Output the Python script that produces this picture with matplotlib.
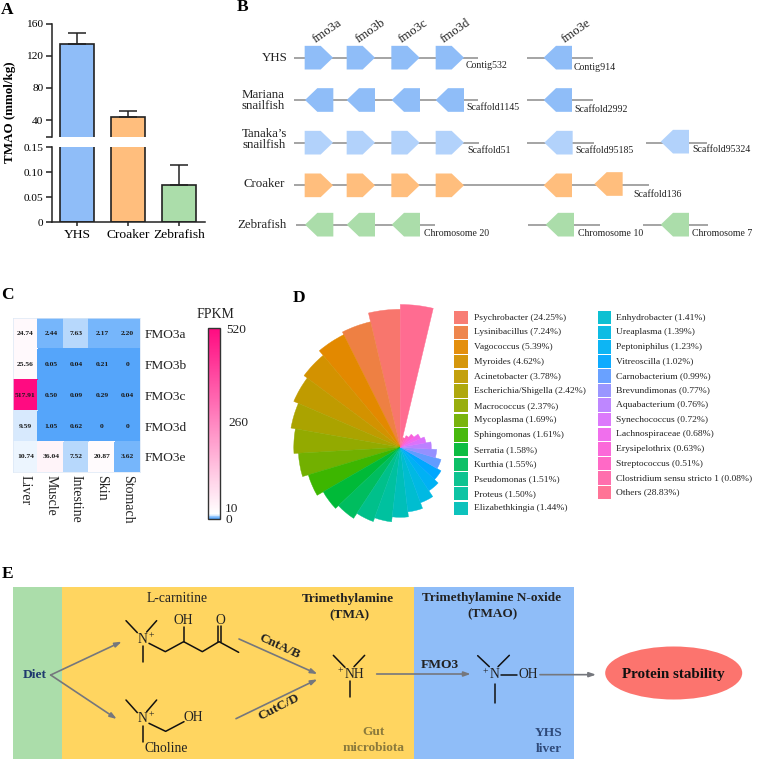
"""TMAO figure: bar chart, gene clusters, heatmap, coxcomb and pathway schematic."""

import matplotlib
matplotlib.use("Agg")
import matplotlib.pyplot as plt
import numpy as np
from matplotlib.colors import LinearSegmentedColormap, Normalize
from matplotlib.patches import Ellipse, Polygon, Rectangle

W, H = 757, 761

# panel A
species = ["YHS", "Croaker", "Zebrafish"]
tmao = [134.4, 43.6, 0.075]
tmao_err = [13.2, 8.2, 0.04]
bar_colors = ["#8FBDF8", "#FFBE7D", "#ABDDAA"]

# panel C
tissues = ["Liver", "Muscle", "Intestine", "Skin", "Stomach"]
fmo_genes = ["FMO3a", "FMO3b", "FMO3c", "FMO3d", "FMO3e"]
fpkm = [
    [24.74, 2.44, 7.63, 2.17, 2.20],
    [25.56, 0.05, 0.04, 0.21, 0],
    [517.91, 0.50, 0.09, 0.29, 0.04],
    [9.59, 1.05, 0.62, 0, 0],
    [10.74, 36.04, 7.52, 20.87, 3.62],
]

# panel D
genera = [
    "Psychrobacter (24.25%)", "Lysinibacillus (7.24%)", "Vagococcus (5.39%)",
    "Myroides (4.62%)", "Acinetobacter (3.78%)", "Escherichia/Shigella (2.42%)",
    "Macrococcus (2.37%)", "Mycoplasma (1.69%)", "Sphingomonas (1.61%)",
    "Serratia (1.58%)", "Kurthia (1.55%)", "Pseudomonas (1.51%)",
    "Proteus (1.50%)", "Elizabethkingia (1.44%)", "Enhydrobacter (1.41%)",
    "Ureaplasma (1.39%)", "Peptoniphilus (1.23%)", "Vitreoscilla (1.02%)",
    "Carnobacterium (0.99%)", "Brevundimonas (0.77%)", "Aquabacterium (0.76%)",
    "Synechococcus (0.72%)", "Lachnospiraceae (0.68%)", "Erysipelothrix (0.63%)",
    "Streptococcus (0.51%)", "Clostridium sensu stricto 1 (0.08%)", "Others (28.83%)",
]
# wedge lengths as drawn (the radial scale is not linear in the percentages)
wedge_len = [138, 129, 126, 120, 116, 111, 106.5, 102, 96, 89, 85, 79, 75, 70,
             65, 59, 52, 47, 42.5, 36.5, 31, 26, 22, 17, 13, 10, 142.8]
genus_colors = [
    "#F8766D", "#EE8043", "#E38900", "#D39200", "#C09B00", "#ABA300", "#93AA00",
    "#72B000", "#3DB600", "#00BA38", "#00BD5F", "#00C08B", "#00C19F", "#00BFB9",
    "#00BDD0", "#00B9E3", "#00B1F4", "#00A7FF", "#619CFF", "#9590FF", "#BB81FF",
    "#DB72FB", "#F067EC", "#FB61D7", "#FF61C3", "#FF67A9", "#FF6C91",
]

# panel B, in pixels of the 3x crop (origin 230, 0)
# track: label lines, backbone segments, genes (x, y, direction), contig labels
BLUE, PALE, ORANGE, GREEN = "#8FBDF8", "#B2D2FB", "#FFBE7D", "#ABDDAA"
tracks = [
    (173, BLUE, [(192, 745), (891, 1088)],
     [(224, 173, 1), (350, 173, 1), (484, 173, 1), (617, 173, 1), (941, 173, -1)]),
    (300, BLUE, [(192, 745), (891, 1090)],
     [(225, 300, -1), (350, 300, -1), (485, 300, -1), (617, 300, -1), (941, 300, -1)]),
    (428, PALE, [(192, 747), (892, 1092), (1247, 1430)],
     [(224, 428, 1), (350, 428, 1), (484, 428, 1), (617, 428, 1), (943, 428, -1),
      (1292, 425, -1)]),
    (556, ORANGE, [(192, 1258)],
     [(224, 556, 1), (350, 556, 1), (484, 556, 1), (617, 556, 1), (941, 556, -1),
      (1093, 552, -1)]),
    (674, GREEN, [(199, 615), (894, 1109), (1238, 1433)],
     [(225, 674, -1), (350, 674, -1), (485, 674, -1), (947, 674, -1), (1292, 674, -1)]),
]
contigs = [
    ("Contig532", 708, 198), ("Contig914", 1030, 201), ("Scaffold1145", 709, 323),
    ("Scaffold2992", 1034, 329), ("Scaffold51", 711, 452), ("Scaffold95185", 1036, 452),
    ("Scaffold95324", 1388, 449), ("Scaffold136", 1209, 584), ("Chromosome 20", 582, 699),
    ("Chromosome 10", 1043, 699), ("Chromosome 7", 1386, 699),
]
track_names = [("YHS", 133, 173), ("Mariana\nsnailfish", 100, 301),
               ("Tanaka\u2019s\nsnailfish", 103, 418), ("Croaker", 104, 553),
               ("Zebrafish", 97, 674)]
gene_names = [("fmo3a", 293, 95), ("fmo3b", 422, 93), ("fmo3c", 549, 93),
              ("fmo3d", 678, 93), ("fmo3e", 1038, 93)]

plt.rcParams["font.family"] = ["Liberation Serif", "DejaVu Serif"]


def rect(x0, y0, x1, y1):
    """Figure fraction rectangle from pixel corners (y counted from the top)."""
    return [x0 / W, 1 - y1 / H, (x1 - x0) / W, (y1 - y0) / H]


fig = plt.figure(figsize=(W / 100, H / 100), dpi=100)
bg = fig.add_axes([0, 0, 1, 1], zorder=0)
bg.set_xlim(0, W)
bg.set_ylim(H, 0)
bg.axis("off")
over = fig.add_axes([0, 0, 1, 1], zorder=5)
over.set_xlim(0, W)
over.set_ylim(H, 0)
over.axis("off")
over.patch.set_alpha(0)

for letter, x, y in [("A", 1, 9.5), ("B", 237, 7), ("C", 1, 295), ("D", 293, 298), ("E", 2, 574)]:
    over.text(x, y, letter, fontsize=12.5, fontweight="bold", va="center", ha="left")

# --- A: broken-axis bars
xpos = np.arange(len(species))
ax_hi = fig.add_axes(rect(51.7, 23.5, 204.7, 136.7))
ax_lo = fig.add_axes(rect(51.7, 147, 204.7, 222.3))
for ax in (ax_hi, ax_lo):
    ax.bar(xpos, tmao, width=0.66, color=bar_colors, edgecolor="#222222", linewidth=1.2)
    ax.set_xlim(-0.502, 2.51)
    ax.spines[["top", "right"]].set_visible(False)
    ax.spines["left"].set_linewidth(1.1)
    ax.spines["left"].set_color("#222222")
    ax.tick_params(axis="y", length=4, width=1.1, labelsize=8.2, pad=2, color="#222222")
ax_hi.errorbar(xpos[:2], tmao[:2], yerr=[[0, 0], tmao_err[:2]], fmt="none",
               ecolor="#222222", elinewidth=1.1, capsize=6.2, capthick=1.1)
ax_lo.errorbar(xpos[2], tmao[2], yerr=[[0], tmao_err[2:]], fmt="none",
               ecolor="#222222", elinewidth=1.1, capsize=6.2, capthick=1.1)
ax_hi.set_ylim(19.3, 160)
ax_hi.set_yticks([19.3, 40, 80, 120, 160], ["", "40", "80", "120", "160"])
ax_hi.spines["bottom"].set_visible(False)
ax_hi.set_xticks([])
ax_lo.set_ylim(0, 0.15)
ax_lo.set_yticks([0, 0.05, 0.10, 0.15], ["0", "0.05", "0.10", "0.15"])
ax_lo.spines["bottom"].set_linewidth(1.1)
ax_lo.spines["bottom"].set_color("#222222")
ax_lo.set_xticks(xpos, species, fontsize=9.7)
ax_lo.tick_params(axis="x", length=3, width=1.1, pad=1.5, color="#222222")
over.text(10, 112, "TMAO (mmol/kg)", rotation=90, fontsize=9.4, fontweight="bold",
          ha="center", va="center")


# --- B: gene clusters
def bx(z):
    return 230 + z / 3


for y, color, segments, genes in tracks:
    for x0, x1 in segments:
        bg.plot([bx(x0), bx(x1)], [y / 3, y / 3], color="#8C8C8C", lw=1.1,
                solid_capstyle="butt", zorder=1)
    for gx, gy, direction in genes:
        x0, x1, cy = bx(gx), bx(gx + 85), gy / 3
        half = 35.5 / 3
        if direction > 0:
            s = x0 + 48 / 3
            pts = [(x0, cy - half), (s, cy - half), (x1, cy), (s, cy + half), (x0, cy + half)]
        else:
            s = x1 - 48 / 3
            pts = [(x1, cy - half), (s, cy - half), (x0, cy), (s, cy + half), (x1, cy + half)]
        bg.add_patch(Polygon(pts, closed=True, facecolor=color, edgecolor="none", zorder=2))
for label, zx, zy in contigs:
    over.text(bx(zx), zy / 3, label, fontsize=7.1, ha="left", va="center", color="#222222")
for label, zx, zy in track_names:
    over.text(bx(zx), zy / 3, label, fontsize=9.3, ha="center", va="center", linespacing=0.88,
              color="#222222")
for label, zx, zy in gene_names:
    over.text(bx(zx), zy / 3, label, fontsize=9.2, rotation=35, ha="center", va="center",
              rotation_mode="anchor", color="#222222")

# --- C: heatmap
cmap = LinearSegmentedColormap.from_list(
    "fpkm", [(0, "#55A5FA"), (8 / 520, "#D5E8FD"), (12 / 520, "#FFFFFF"), (1, "#FF0A80")])
norm = Normalize(0, 520)
ax_c = fig.add_axes(rect(12.7, 318.3, 140.3, 472.3))
vals = np.array(fpkm, dtype=float)
mesh = ax_c.pcolormesh(vals, cmap=cmap, norm=norm, edgecolors="face", linewidth=0.2)
ax_c.invert_yaxis()
for r, row in enumerate(fpkm):
    for c, v in enumerate(row):
        txt = "0" if v == 0 else f"{v:.2f}"
        ax_c.text(c + 0.5, r + 0.5, txt, fontsize=5.4, fontweight="bold", ha="center",
                  va="center", color="#1A1A1A")
ax_c.set_xticks(np.arange(5) + 0.5, tissues, rotation=270, fontsize=10)
ax_c.set_yticks(np.arange(5) + 0.5, fmo_genes, fontsize=9.6)
ax_c.yaxis.tick_right()
ax_c.tick_params(axis="x", length=0, pad=2, colors="#222222")
ax_c.tick_params(axis="y", length=0, pad=3, colors="#222222")
for s in ax_c.spines.values():
    s.set_color("#DCE8F6")
    s.set_linewidth(0.5)

cax = fig.add_axes(rect(208, 327.7, 220, 518.7))
cb = fig.colorbar(mesh, cax=cax)
cb.set_ticks([])
cb.outline.set_edgecolor("#333333")
cb.outline.set_linewidth(1.0)
over.text(215, 315, "FPKM", fontsize=10, ha="center", va="center", color="#222222")
for label, x, y in [("520", 226, 330), ("260", 228, 423), ("10", 225, 509), ("0", 225, 520)]:
    over.text(x, y, label, fontsize=9.6, ha="left", va="center", color="#222222")

# --- D: coxcomb and its legend
cx, cy_d, rmax = 400.3, 447.3, 146
ax_d = fig.add_axes(rect(cx - rmax, cy_d - rmax, cx + rmax, cy_d + rmax), projection="polar")
step = 2 * np.pi / len(wedge_len)
ax_d.set_theta_zero_location("N")
ax_d.set_theta_direction(1)
ax_d.bar(step * (np.arange(len(wedge_len)) + 0.5), wedge_len, width=step,
         color=genus_colors, edgecolor=genus_colors, linewidth=0.3)
ax_d.set_ylim(0, rmax)
ax_d.axis("off")

for i, (name, color) in enumerate(zip(genera, genus_colors)):
    if i < 14:
        sx, tx, ty = 454.3, 474, 317.7 + i * 14.67
    else:
        sx, tx, ty = 597.7, 616.3, 317.7 + (i - 14) * 14.58
    bg.add_patch(Rectangle((sx, ty - 6.7), 13.4, 13.4, facecolor=color, edgecolor="none",
                           alpha=0.95))
    over.text(tx, ty, name, fontsize=6.8, ha="left", va="center", color="#222222")

# --- E: pathway schematic (crop coordinates, origin 0, 560)
bg.add_patch(Rectangle((13.3, 586.7), 48.4, 172.6, facecolor="#ABDDAA", edgecolor="none"))
bg.add_patch(Rectangle((61.7, 586.7), 352.6, 172.6, facecolor="#FFD560", edgecolor="none"))
bg.add_patch(Rectangle((414.3, 586.7), 159.4, 172.6, facecolor="#8FBDF8", edgecolor="none"))
bg.add_patch(Ellipse((673.7, 673), 137, 53, facecolor="#FC746E", edgecolor="none"))


def ex(z):
    return z / 3


def ey(z):
    return 560 + z / 3


def e2x(z):
    return 380 + z / 3


def bond(points, xf=ex):
    xs = [xf(p[0]) for p in points]
    ys = [ey(p[1]) for p in points]
    over.plot(xs, ys, color="#111111", lw=1.1, solid_capstyle="round", solid_joinstyle="round")


def arrow(p0, p1, xf=ex):
    over.annotate("", xy=(xf(p1[0]), ey(p1[1])), xytext=(xf(p0[0]), ey(p0[1])),
                  arrowprops=dict(arrowstyle="-|>,head_length=0.4,head_width=0.14",
                                  color="#75777D", lw=1.2, shrinkA=0, shrinkB=0))


def chem(x, y, s, xf=ex, size=9.8, **kw):
    over.text(xf(x), ey(y), s, fontsize=size, ha="center", va="center",
              color=kw.pop("color", "#222222"), **kw)


# L-carnitine
chem(530, 115, "L-carnitine")
bond([(378, 182), (412, 218)])
bond([(470, 182), (440, 216)])
bond([(428, 258), (428, 306)])
bond([(447, 250), (496, 275), (551, 245), (607, 275), (657, 245), (716, 277)])
bond([(551, 245), (551, 200)])
bond([(655, 198), (655, 245)])
bond([(662, 198), (662, 245)])
chem(427, 238, "N")
chem(453, 228, "+", size=7)
chem(551, 181, "OH")
chem(660, 181, "O")

# choline
bond([(378, 420), (412, 458)])
bond([(470, 420), (440, 455)])
bond([(428, 497), (428, 545)])
bond([(447, 490), (497, 514), (552, 485)])
chem(427, 477, "N")
chem(453, 463, "+", size=7)
chem(580, 473, "OH")
chem(500, 565, "Choline")

# TMA
chem(1043, 116, "Trimethylamine", fontweight="bold", size=9.6)
chem(1048, 166, "(TMA)", fontweight="bold", size=9.6)
bond([(1000, 286), (1035, 322)])
bond([(1094, 286), (1062, 320)])
bond([(1051, 362), (1051, 412)])
chem(1064, 343, "NH")
chem(1021, 333, "+", size=7)
chem(1120, 517, "Gut", fontweight="bold", color="#8B7A3C", size=9.6)
chem(1120, 565, "microbiota", fontweight="bold", color="#8B7A3C", size=9.6)

# TMAO
chem(335, 114, "Trimethylamine N-oxide", e2x, fontweight="bold", size=9.5)
chem(338, 163, "(TMAO)", e2x, fontweight="bold", size=9.5)
bond([(293, 287), (328, 320)], e2x)
bond([(388, 286), (354, 320)], e2x)
bond([(345, 373), (345, 429)], e2x)
bond([(363, 344), (410, 344)], e2x)
chem(344, 345, "N", e2x)
chem(316, 335, "+", e2x, size=7)
chem(444, 344, "OH", e2x)
chem(505, 520, "YHS", e2x, fontweight="bold", color="#2F4A7A", size=9.6)
chem(508, 568, "liver", e2x, fontweight="bold", color="#2F4A7A", size=9.6)
chem(881, 343, "Protein stability", e2x, fontweight="bold", color="#111111", size=10.8)

chem(105, 345, "Diet", fontweight="bold", color="#1F3A6E", size=9.7)
arrow((152, 345), (365, 245))
arrow((152, 345), (350, 477))
arrow((717, 237), (952, 342))
arrow((708, 476), (952, 358))
arrow((1130, 342), (1412, 342))
arrow((480, 344), (648, 344), e2x)
chem(840, 260, "CntA/B", fontweight="bold", rotation=-25, size=9.6)
chem(838, 443, "CutC/D", fontweight="bold", rotation=27, size=9.6)
chem(179, 315, "FMO3", e2x, fontweight="bold", size=9.7)

fig.savefig("out.png", dpi=100)
